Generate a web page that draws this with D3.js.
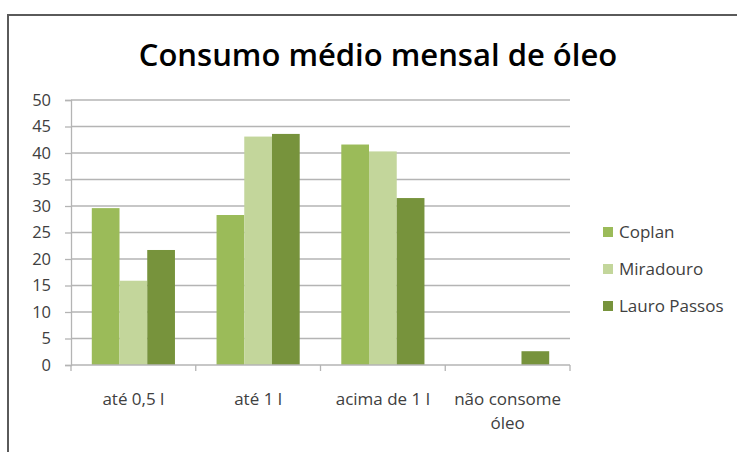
<!DOCTYPE html>
<html>
<head>
<meta charset="utf-8">
<script src="https://cdn.jsdelivr.net/npm/d3@7"></script>
<style>
  html, body { margin: 0; padding: 0; background: #fff; }
  svg { display: block; }
</style>
</head>
<body>
<svg id="chart" width="737" height="452"></svg>
<script>
// Average monthly cooking-oil consumption per neighbourhood
const categories = [["até 0,5 l"], ["até 1 l"], ["acima de 1 l"], ["não consome", "óleo"]];
const seriesNames = ["Coplan", "Miradouro", "Lauro Passos"];
const coplan = [29.6, 28.3, 41.6, 0];
const miradouro = [15.9, 43.1, 40.3, 0];
const lauroPassos = [21.7, 43.6, 31.5, 2.6];
const yTicks = [0, 5, 10, 15, 20, 25, 30, 35, 40, 45, 50];
const colors = ["#9bbb59", "#c3d69b", "#77933c"];

const seriesValues = [coplan, miradouro, lauroPassos];
const font = "'Open Sans', Lato, sans-serif";
const textColor = "#404040";
const gridColor = "#b4b4b4";

const svg = d3.select("#chart");

// outer frame
svg.append("path")
  .attr("d", "M8,452 L8,15 L737,15")
  .attr("fill", "none")
  .attr("stroke", "#5a5a5a")
  .attr("stroke-width", 2);

// title
svg.append("text")
  .attr("x", 378).attr("y", 66)
  .attr("text-anchor", "middle")
  .attr("font-family", font)
  .attr("font-weight", 600)
  .attr("font-size", 31)
  .attr("fill", "#000")
  .text("Consumo médio mensal de óleo");

const plot = { left: 71, right: 570, top: 100, bottom: 365 };

const x0 = d3.scaleBand()
  .domain(d3.range(categories.length))
  .range([plot.left, plot.right]);

// three bars per group, with a gap of 1.5 bar widths between groups
const barW = x0.bandwidth() / (seriesNames.length + 1.5);
const groupOffset = barW * 0.75;

const y = d3.scaleLinear().domain([0, 50]).range([plot.bottom, plot.top]);

// gridlines
svg.append("g")
  .selectAll("line")
  .data(yTicks.filter(t => t > 0))
  .join("line")
  .attr("x1", plot.left).attr("x2", plot.right)
  .attr("y1", d => y(d)).attr("y2", d => y(d))
  .attr("stroke", gridColor)
  .attr("stroke-width", 1.3);

// y axis
const yAxis = svg.append("g")
  .attr("transform", `translate(${plot.left},0)`)
  .call(d3.axisLeft(y).tickValues(yTicks).tickSize(6).tickPadding(14));
yAxis.select(".domain").attr("stroke", gridColor).attr("stroke-width", 1.3);
yAxis.selectAll(".tick line").attr("stroke", gridColor).attr("stroke-width", 1.3);
yAxis.selectAll(".tick text")
  .attr("font-family", font)
  .attr("font-size", 16.5)
  .attr("fill", textColor);

// bars
const groups = svg.append("g")
  .selectAll("g")
  .data(d3.range(categories.length))
  .join("g")
  .attr("transform", i => `translate(${x0(i) + groupOffset},0)`);

groups.selectAll("rect")
  .data(i => seriesValues.map((s, j) => ({ j, v: s[i] })))
  .join("rect")
  .attr("x", d => d.j * barW)
  .attr("width", barW)
  .attr("y", d => y(d.v))
  .attr("height", d => y(0) - y(d.v))
  .attr("fill", d => colors[d.j]);

// x axis
const xAxis = svg.append("g")
  .attr("transform", `translate(0,${plot.bottom})`);
xAxis.append("line")
  .attr("x1", plot.left).attr("x2", plot.right)
  .attr("stroke", gridColor).attr("stroke-width", 1.3);
xAxis.selectAll(".tk")
  .data(d3.range(categories.length + 1))
  .join("line")
  .attr("class", "tk")
  .attr("x1", i => plot.left + i * x0.bandwidth())
  .attr("x2", i => plot.left + i * x0.bandwidth())
  .attr("y1", 0).attr("y2", 6)
  .attr("stroke", gridColor).attr("stroke-width", 1.3);

const labels = xAxis.selectAll(".lbl")
  .data(categories)
  .join("text")
  .attr("class", "lbl")
  .attr("text-anchor", "middle")
  .attr("font-family", font)
  .attr("font-size", 17)
  .attr("fill", textColor)
  .attr("transform", (d, i) => `translate(${x0(i) + x0.bandwidth() / 2},40)`);
labels.selectAll("tspan")
  .data(d => d)
  .join("tspan")
  .attr("x", 0)
  .attr("dy", (d, k) => k === 0 ? 0 : 24)
  .text(d => d);

// legend
const legend = svg.append("g").attr("transform", "translate(603,232)");
const items = legend.selectAll("g")
  .data(seriesNames)
  .join("g")
  .attr("transform", (d, i) => `translate(0,${i * 37})`);
items.append("rect")
  .attr("x", 0).attr("y", -5)
  .attr("width", 10).attr("height", 10)
  .attr("fill", (d, i) => colors[i]);
items.append("text")
  .attr("x", 16).attr("y", 6)
  .attr("font-family", font)
  .attr("font-size", 17)
  .attr("fill", textColor)
  .text(d => d);
</script>
</body>
</html>
